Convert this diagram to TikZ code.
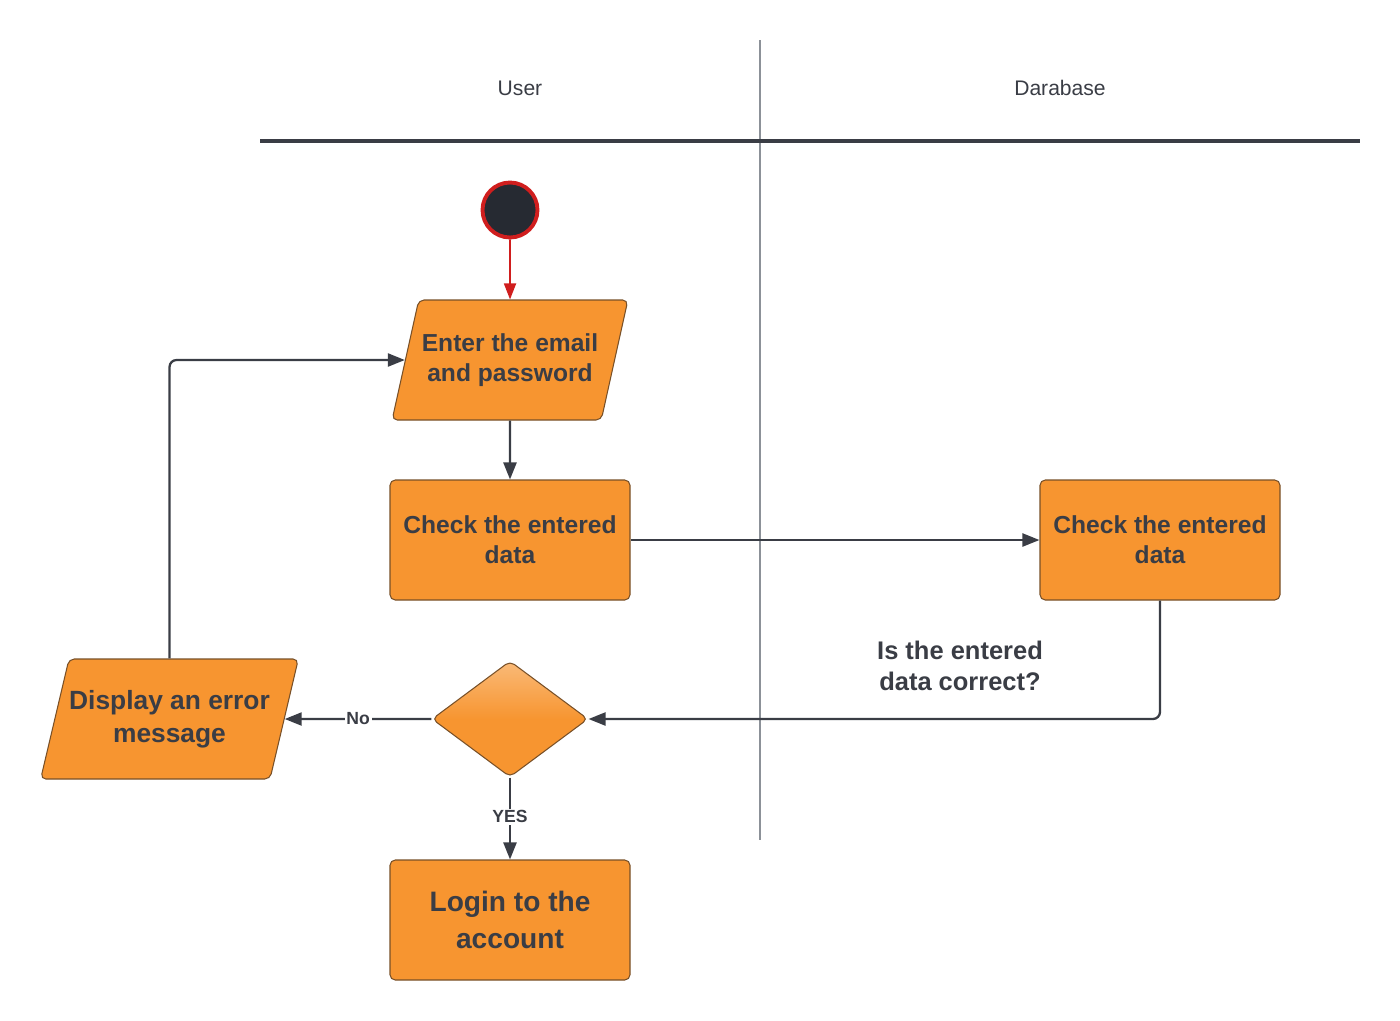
\documentclass[tikz,border=0pt]{standalone}
\usepackage{fontspec}
\setmainfont{Liberation Sans}
\usetikzlibrary{shapes.geometric, arrows.meta, positioning}
\definecolor{boxorange}{RGB}{247, 149, 48}
\definecolor{boxedge}{RGB}{120, 80, 40}
\definecolor{inkgray}{RGB}{58, 61, 69}
\definecolor{lanegray}{RGB}{140, 145, 152}
\definecolor{startred}{RGB}{208, 30, 30}
\definecolor{startfill}{RGB}{38, 42, 50}

\tikzset{
  flowbox/.style={draw=boxedge, fill=boxorange, rounded corners=3pt, line width=0.6pt,
    minimum width=4.8cm, minimum height=2.4cm, align=center, text=inkgray, font=\fontsize{14}{17}\selectfont\bfseries},
  iobox/.style={trapezium, trapezium stretches=true, trapezium left angle=64, trapezium right angle=116,
    draw=boxedge, fill=boxorange, rounded corners=3pt, line width=0.6pt, minimum height=2.4cm,
    align=center, text=inkgray, inner sep=0pt},
  flowline/.style={draw=inkgray, line width=1.3pt, -{Triangle[length=0.34cm, width=0.26cm]}},
  tag/.style={fill=white, inner sep=1pt, text=inkgray, font=\fontsize{10}{12}\selectfont\bfseries}
}

\begin{document}
\begin{tikzpicture}
  \useasboundingbox (0,0) rectangle (28,-20.4);

  % Swimlanes
  \draw[lanegray, line width=0.6pt] (15.2,-0.8) -- (15.2,-16.8);
  \draw[inkgray, line width=1.8pt] (5.2,-2.82) -- (27.2,-2.82);
  \node[text=inkgray, font=\fontsize{12}{14}\selectfont] (userlane) at (10.4,-1.76) {User};
  \node[text=inkgray, font=\fontsize{12}{14}\selectfont] (dblane) at (21.2,-1.76) {Darabase};

  % Nodes
  \node[circle, draw=startred, fill=startfill, line width=2.2pt, minimum size=1.1cm, inner sep=0pt] (start) at (10.2,-4.2) {};
  \node[iobox, minimum width=4.72cm, font=\fontsize{14}{17}\selectfont\bfseries] (enter) at (10.2,-7.2) {Enter the email\\and password};
  \node[flowbox] (check) at (10.2,-10.8) {Check the entered\\data};
  \node[flowbox] (checkdb) at (23.2,-10.8) {Check the entered\\data};
  \node[diamond, draw=boxedge, line width=0.6pt, rounded corners=3pt, inner sep=0pt,
    minimum width=3.12cm, minimum height=2.32cm, top color=boxorange!65!white, bottom color=boxorange, middle color=boxorange] (decision) at (10.2,-14.38) {};
  \node[iobox, minimum width=5.16cm, font=\fontsize{15}{19}\selectfont\bfseries] (error) at (3.39,-14.38) {Display an error\\message};
  \node[flowbox, font=\fontsize{16}{21}\selectfont\bfseries] (login) at (10.2,-18.4) {Login to the\\account};
  \node[align=center, text=inkgray, font=\fontsize{14.5}{18}\selectfont\bfseries] (question) at (19.2,-13.32) {Is the entered\\data correct?};

  % Connectors
  \draw[flowline, draw=startred, line width=1pt, -{Triangle[length=0.32cm, width=0.24cm]}, startred] (start) -- (enter);
  \draw[flowline] (enter) -- (check);
  \draw[flowline] (check) -- (checkdb);
  \draw[flowline, rounded corners=4pt] (checkdb.south) |- (decision.east);
  \draw[flowline] (decision.west) -- node[tag, pos=0.5] {No} (error.east);
  \draw[flowline] (decision.south) -- node[tag, pos=0.48] {YES} (login.north);
  \draw[flowline, rounded corners=4pt] (error.north) |- (enter.west);
\end{tikzpicture}
\end{document}
